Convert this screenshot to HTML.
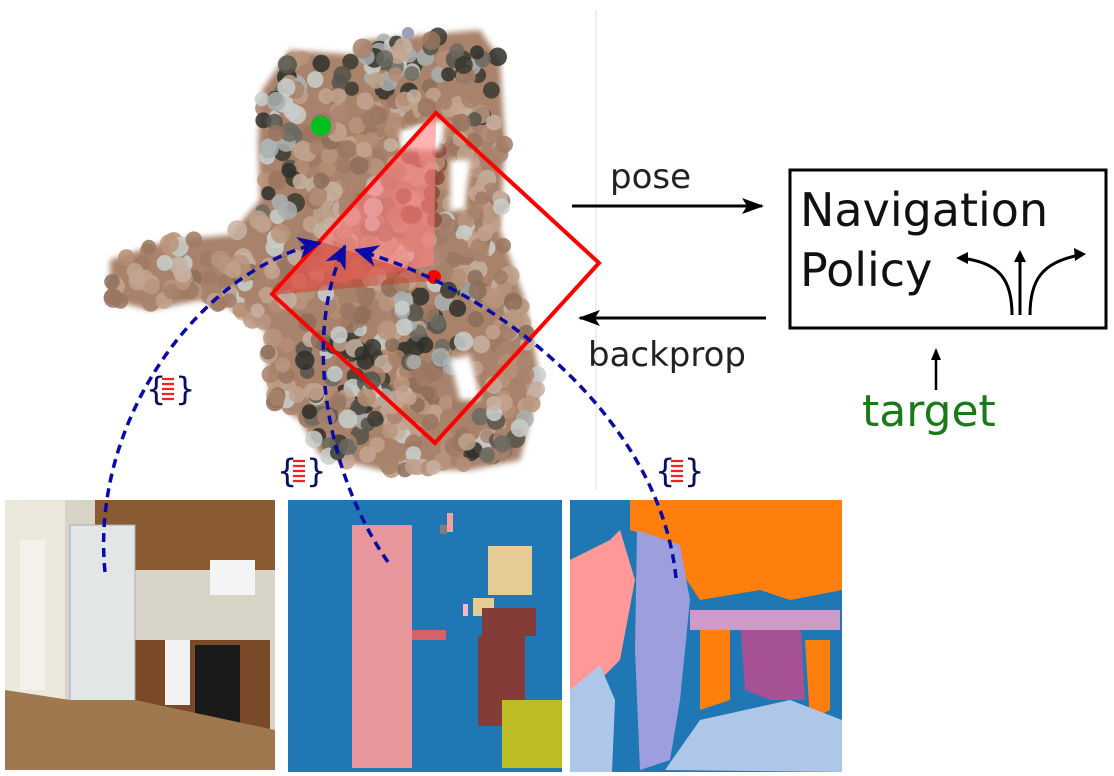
<!DOCTYPE html>
<html><head><meta charset="utf-8"><style>
html,body{margin:0;padding:0;background:#fff;width:1114px;height:776px;overflow:hidden}
svg{display:block}
text{font-family:"DejaVu Sans","Liberation Sans",sans-serif}
</style></head><body>
<svg id="s" width="1114" height="776" viewBox="0 0 1114 776" xmlns="http://www.w3.org/2000/svg">
<defs>
<filter id="bl"><feGaussianBlur stdDeviation="3"/></filter>
<marker id="ah" markerWidth="22" markerHeight="16" refX="20" refY="8" orient="auto" markerUnits="userSpaceOnUse"><path d="M0,0 L22,8 L0,16 L5,8Z" fill="#000"/></marker>
<marker id="bh" markerWidth="26" markerHeight="22" refX="22" refY="11" orient="auto" markerUnits="userSpaceOnUse"><path d="M0,0 L24,11 L0,22 L7,11Z" fill="#0a0aa8"/></marker>
</defs>
<line x1="596" y1="10" x2="596" y2="490" stroke="#ddd" stroke-width="1"/>
<g filter="url(#bl)">
<path d="M262,90 L290,50 L355,55 L365,40 L480,30 L500,60 L505,140 L500,230 L525,300 L540,380 L520,460 L470,470 L380,470 L320,455 L300,420 L270,400 L265,330 L240,310 L200,300 L150,310 L110,300 L110,260 L170,240 L230,235 L260,200 L258,140Z" fill="#a8826a"/>
</g>
<g id="dots"></g>
<g fill="#fff" filter="url(#bl)">
<path d="M400,130 L445,120 L440,150 L400,150Z"/>
<path d="M450,160 L470,160 L465,210 L450,210Z"/>
<path d="M450,360 L470,355 L480,400 L460,400Z"/>
</g>
<circle cx="408" cy="33" r="6" fill="#9aa0b8"/>
<polygon points="436,116 434,265 272,295" fill="#ff8080" opacity="0.6"/>
<polygon points="272,295 322,242 440,280" fill="#c83a2a" opacity="0.5"/>
<polygon points="436,113 599,263 435,443 272,294" fill="none" stroke="#f00" stroke-width="4"/>
<circle cx="321" cy="126" r="10" fill="#00c020"/>
<circle cx="434" cy="277" r="7" fill="#f00"/>
<line x1="572" y1="206" x2="762" y2="206" stroke="#000" stroke-width="3" marker-end="url(#ah)"/>
<text x="610" y="188" font-size="34" fill="#222">pose</text>
<line x1="766" y1="318" x2="580" y2="318" stroke="#000" stroke-width="3" marker-end="url(#ah)"/>
<text x="588" y="366" font-size="34" fill="#222">backprop</text>
<rect x="790" y="170" width="316" height="158" fill="#fff" stroke="#000" stroke-width="3"/>
<text x="800" y="226" font-size="46" fill="#111">Navigation</text>
<text x="800" y="286" font-size="46" fill="#111">Policy</text>
<g fill="none" stroke="#000" stroke-width="3">
<path d="M1020,315 L1020,256"/><path d="M1012,315 C1012,280 1000,262 960,258"/><path d="M1030,315 C1030,280 1042,262 1080,255"/>
</g>
<path d="M1020,250 L1014,262 L1026,262Z" fill="#000"/>
<path d="M956,258 L968,252 L968,264Z" fill="#000"/>
<path d="M1086,254 L1074,248 L1075,261Z" fill="#000"/>
<line x1="936" y1="390" x2="936" y2="350" stroke="#000" stroke-width="2.5"/>
<path d="M936,348 L931,360 L941,360Z" fill="#000"/>
<text x="862" y="426" font-size="44" fill="#1a7a1a">target</text>
<rect x="5" y="500" width="270" height="270" fill="#d8d4c8"/>
<rect x="5" y="500" width="60" height="270" fill="#ece8dc"/>
<rect x="20" y="540" width="25" height="150" fill="#f4f2ea"/>
<rect x="95" y="500" width="180" height="70" fill="#8a5a32"/>
<rect x="210" y="560" width="45" height="35" fill="#f4f4f4"/>
<rect x="130" y="640" width="140" height="90" fill="#7a4a28"/>
<rect x="195" y="645" width="45" height="80" fill="#1a1a1a"/>
<rect x="165" y="640" width="25" height="65" fill="#f2f2f2"/>
<rect x="70" y="525" width="65" height="235" fill="#e2e6e6" stroke="#aab" stroke-width="1"/>
<polygon points="5,690 70,700 135,700 275,730 275,770 5,770" fill="#a07850"/>
<rect x="288" y="500" width="274" height="272" fill="#1f77b4"/>
<rect x="352" y="525" width="60" height="243" fill="#e7969c"/>
<rect x="412" y="630" width="34" height="10" fill="#d6616b"/>
<rect x="447" y="513" width="6" height="19" fill="#f7a0a0"/>
<rect x="440" y="525" width="7" height="9" fill="#7f7f7f"/>
<rect x="488" y="546" width="44" height="49" fill="#e7cb94"/>
<rect x="473" y="598" width="21" height="18" fill="#e7cb94"/>
<rect x="463" y="604" width="5" height="12" fill="#f7b6d2"/>
<rect x="482" y="608" width="54" height="28" fill="#843c39"/>
<rect x="478" y="636" width="47" height="90" fill="#843c39"/>
<rect x="502" y="700" width="60" height="68" fill="#bcbd22"/>
<rect x="570" y="500" width="272" height="272" fill="#1f77b4"/>
<path d="M630,500 L842,500 L842,590 L790,600 L760,590 L700,600 L680,570 L660,540 L630,530Z" fill="#ff7f0e"/>
<path d="M570,560 L610,540 L620,530 L635,580 L620,660 L600,680 L570,690Z" fill="#ff9896"/>
<path d="M570,690 L600,665 L615,700 L612,772 L570,772Z" fill="#aec7e8"/>
<path d="M637,530 L680,545 L690,600 L680,700 L670,760 L640,770 L635,650Z" fill="#9c9ede"/>
<path d="M700,630 L730,630 L730,700 L700,710Z" fill="#ff7f0e"/>
<path d="M805,640 L830,640 L830,710 L810,720Z" fill="#ff7f0e"/>
<path d="M740,620 L800,610 L805,700 L770,700 L745,690Z" fill="#a55194"/>
<path d="M690,610 L840,610 L840,630 L690,630Z" fill="#ce9ac8"/>
<path d="M665,770 L700,720 L790,700 L842,720 L842,772Z" fill="#aec7e8"/>
<g fill="none" stroke="#0a0aa8" stroke-width="3.5" stroke-dasharray="9,6">
<path d="M105,572 C90,420 200,270 320,243" marker-end="url(#bh)"/>
<path d="M388,562 C330,480 300,340 345,246" marker-end="url(#bh)"/>
<path d="M676,578 C660,420 500,290 356,250" marker-end="url(#bh)"/>
</g>
<g font-size="32" fill="#0a1060">
<text x="146" y="400">{</text><text x="175" y="400">}</text>
<text x="277" y="482">{</text><text x="306" y="482">}</text>
<text x="655" y="482">{</text><text x="684" y="482">}</text>
</g>
<g stroke="#e22" stroke-width="2.2">
<path d="M162,379h12M162,384h12M162,389h12M162,394h12M162,399h12"/>
<path d="M293,461h12M293,466h12M293,471h12M293,476h12M293,481h12"/>
<path d="M671,461h12M671,466h12M671,471h12M671,476h12M671,481h12"/>
</g>
</svg>
<script>
(function(){
var g=document.getElementById('dots');var seed=7;function r(){seed=(seed*16807)%2147483647;return seed/2147483647;}
var poly=[[262,90],[290,50],[355,55],[365,40],[480,30],[500,60],[505,140],[500,230],[525,300],[540,380],[520,460],[470,470],[380,470],[320,455],[300,420],[270,400],[265,330],[240,310],[200,300],[150,310],[110,300],[110,260],[170,240],[230,235],[260,200],[258,140]];
function inside(x,y){var c=false;for(var i=0,j=poly.length-1;i<poly.length;j=i++){var a=poly[i],b=poly[j];if(((a[1]>y)!=(b[1]>y))&&(x<(b[0]-a[0])*(y-a[1])/(b[1]-a[1])+a[0]))c=!c;}return c;}
var cols=['#a8826a','#b58e74','#9a7560','#c4a590','#8c6e5a','#aa8470','#b8957c','#a07a64','#bfa28c','#c7b2a2'];
var s='';for(var k=0;k<1400;k++){var x=100+r()*450,y=25+r()*450;if(!inside(x,y))continue;
var dark=(y<95)||(x<300&&y<230&&x>262)||(x>300&&x<385&&y>330)||(x>400&&x<470&&y>290&&y<370)||(x>470&&y>410)||(x>470&&y<120);
var c=cols[Math.floor(r()*cols.length)];
if(dark&&r()<0.7)c=['#2f302a','#3a3a30','#55534a','#6b6a60','#c9cfcc','#a9b0b0'][Math.floor(r()*6)];
else if(r()<0.05)c='#c9cfcc';
if(x>395&&x<445&&y>140&&y<230&&r()<0.6)c='#8a4a3a';
s+='<circle cx="'+x.toFixed(1)+'" cy="'+y.toFixed(1)+'" r="'+(7+r()*3).toFixed(1)+'" fill="'+c+'" opacity="0.85"/>';}
g.innerHTML=s;})();
</script>
</body></html>
